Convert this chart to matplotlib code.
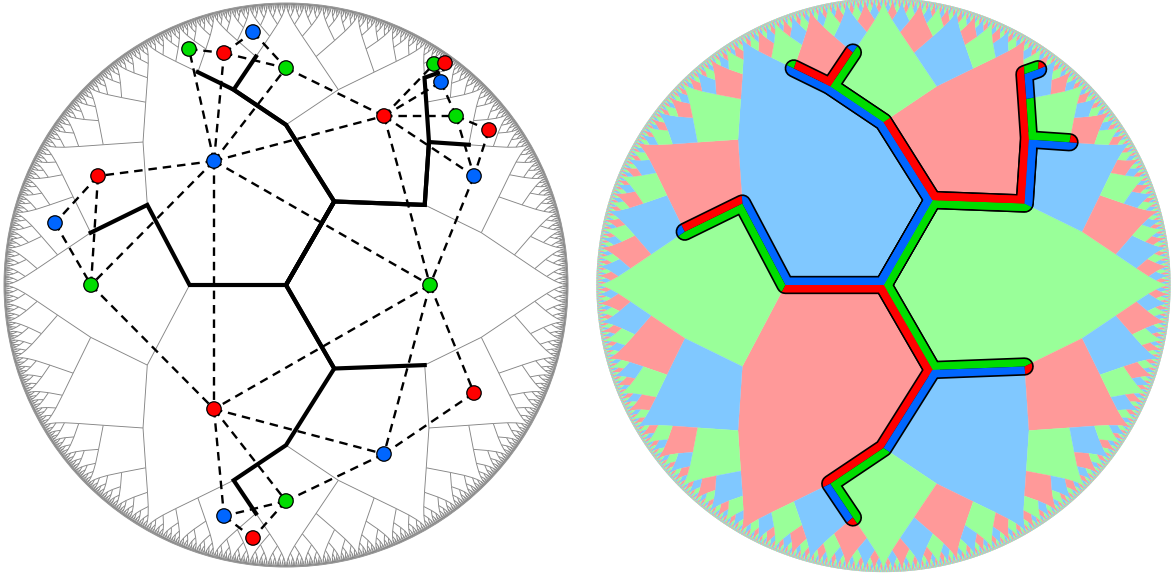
import numpy as np
import matplotlib
matplotlib.use("Agg")
import matplotlib.pyplot as plt
from matplotlib.collections import LineCollection, PolyCollection
from matplotlib.patches import Circle, Polygon

# radius of each tree level, as a fraction of the disc radius
LEVEL_RADII = [0.0, 0.342, 0.568, 0.717, 0.817, 0.884, 0.925, 0.951, 0.968, 0.981, 0.993, 1.0]
ROOT_ANGLES = [60, 180, 300]
ROOT_FACE_ANGLES = [0, 120, 240]
ROOT_FACE_COLORS = [1, 2, 0]  # index into the palettes below: 0 red, 1 green, 2 blue

PALE = ["#ff9999", "#99ff99", "#80c8ff"]
VIVID = ["#ff0000", "#00dd00", "#0066ff"]

# thick sub-tree: angle of each node along the paths from the root
THICK_PATHS = [
    [180, 150, 165],
    [60, 90, 105, 112.5],
    [60, 90, 105, 97.5],
    [60, 30, 45, 37.5],
    [60, 30, 45, 52.5, 56.25, 54.375],
    [300, 330],
    [300, 270, 255, 262.5],
]

# dual graph on the left disc
DOT_X = [214, 98, 55, 91, 189, 224, 253, 286, 384, 434, 445, 441, 456, 489, 474,
         430, 214, 474, 384, 286, 224, 253]
DOT_Y = [161, 176, 223, 285, 49, 53, 32, 68, 116, 64, 63, 82, 116, 130, 176,
         285, 409, 393, 454, 501, 516, 538]
DOT_COLOR = [2, 0, 2, 1, 1, 0, 2, 1, 0, 1, 0, 2, 1, 0, 2, 1, 0, 0, 2, 1, 2, 0]
DUAL_EDGES = [
    (0, 1), (0, 3), (0, 4), (0, 5), (0, 7), (0, 8), (0, 15), (0, 16),
    (1, 2), (1, 3), (2, 3),
    (4, 5), (5, 6), (5, 7), (6, 7),
    (8, 7), (8, 9), (8, 11), (8, 12), (8, 14), (8, 15),
    (9, 10), (10, 11), (9, 11), (11, 12), (12, 13), (12, 14), (13, 14),
    (14, 15), (15, 16), (15, 18), (15, 17), (17, 18),
    (3, 16), (16, 18), (16, 19), (16, 20),
    (18, 19), (19, 20), (19, 21), (20, 21),
]

LEFT = (286, 285, 282)
RIGHT = (883.5, 285, 287)
MAX_LEVEL = len(LEVEL_RADII) - 1


def unit(level, angle):
    r = LEVEL_RADII[level]
    a = np.radians(angle)
    return np.array([r * np.cos(a), r * np.sin(a)])


def to_px(p, disc):
    cx, cy, R = disc
    return cx + R * p[0], cy - R * p[1]


def collect_edges():
    edges = []

    def walk(level, angle):
        if level == MAX_LEVEL:
            return
        d = 60 / 2 ** level
        for child in (angle - d, angle + d):
            edges.append((unit(level, angle), unit(level + 1, child)))
            walk(level + 1, child)

    for a in ROOT_ANGLES:
        edges.append((unit(0, 0), unit(1, a)))
        walk(1, a)
    return edges


def chain(level, start, cusp):
    # nodes from (level, start) on, always turning towards the cusp
    pts = []
    angle = start
    for lv in range(level, MAX_LEVEL + 1):
        pts.append(unit(lv, angle))
        d = 60 / 2 ** lv
        angle = angle + d if angle < cusp else angle - d
    return pts


def collect_faces():
    faces = []
    for a, c in zip(ROOT_FACE_ANGLES, ROOT_FACE_COLORS):
        left = chain(1, a - 60, a)
        right = chain(1, a + 60, a)
        faces.append((0, [unit(0, 0)] + left + [unit(MAX_LEVEL, a)] + right[::-1], c))

    def walk(level, angle, low, high):
        c = 3 - low - high
        if level == MAX_LEVEL:
            return
        d = 60 / 2 ** level
        left = chain(level + 1, angle - d, angle)
        right = chain(level + 1, angle + d, angle)
        faces.append((level, [unit(level, angle)] + left + [unit(MAX_LEVEL, angle)] + right[::-1], c))
        walk(level + 1, angle - d, low, c)
        walk(level + 1, angle + d, c, high)

    for a, low, high in [(60, 1, 2), (180, 2, 0), (300, 0, 1)]:
        walk(1, a, low, high)
    return faces


def thick_lines(disc):
    lines = []
    for path in THICK_PATHS:
        pts = [to_px(unit(0, 0), disc)]
        for i, a in enumerate(path):
            pts.append(to_px(unit(i + 1, a), disc))
        lines.append(np.array(pts))
    return lines


fig = plt.figure(figsize=(11.72, 5.75), dpi=100)
ax = fig.add_axes([0, 0, 1, 1])
ax.set_xlim(0, 1172)
ax.set_ylim(575, 0)
ax.axis("off")

# left disc: thin tree
segs = [[to_px(p, LEFT), to_px(q, LEFT)] for p, q in collect_edges()]
ax.add_collection(LineCollection(segs, colors="#858585", linewidths=0.65, zorder=1))
ax.add_patch(Circle(LEFT[:2], LEFT[2], fill=False, ec="#999999", lw=0.7, zorder=1))

for line in thick_lines(LEFT):
    ax.plot(line[:, 0], line[:, 1], color="black", lw=3.0, zorder=2, solid_joinstyle="miter")

for i, j in DUAL_EDGES:
    ax.plot([DOT_X[i], DOT_X[j]], [DOT_Y[i], DOT_Y[j]], color="black", lw=1.7,
            dashes=(3.6, 2.5), zorder=3)
ax.scatter(DOT_X, DOT_Y, s=108, c=[VIVID[c] for c in DOT_COLOR], edgecolors="black",
           linewidths=0.9, zorder=4)

# right disc: coloured faces with the banded tree on top
faces = collect_faces()
polys = [[to_px(p, RIGHT) for p in pts] for _, pts, _ in faces]
cols = [PALE[c] for _, _, c in faces]
ax.add_collection(PolyCollection(polys, facecolors=cols, edgecolors=cols, linewidths=0.2, zorder=1))

lines = thick_lines(RIGHT)
for line in lines:
    ax.plot(line[:, 0], line[:, 1], color="black", lw=13.2, zorder=5,
            solid_capstyle="round", solid_joinstyle="round")
for (level, pts, c), xy in zip(faces, polys):
    if level > 7:
        continue
    clip = Polygon(xy, closed=True, transform=ax.transData)
    for line in lines:
        art, = ax.plot(line[:, 0], line[:, 1], color=VIVID[c], lw=10.8, zorder=6,
                       solid_capstyle="round", solid_joinstyle="round")
        art.set_clip_path(clip)

fig.savefig("out.png", dpi=100)
